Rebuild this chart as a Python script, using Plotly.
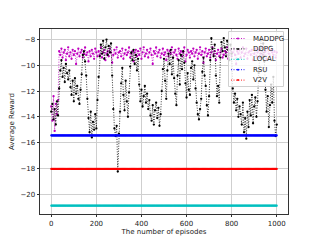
import plotly.graph_objects as go

# ---------------- data ----------------
episodes = list(range(0, 1001, 5))

maddpg = [
    -13.2, -14.3, -12.4, -15.1, -13.0, -13.8, -12.7,
    -8.9, -9.2, -8.7, -9.4, -9.0, -8.8, -9.6, -9.1, -8.6, -9.3,
    -9.0, -9.5, -8.8, -9.2, -8.9, -9.9, -9.1, -8.7, -9.3, -9.0,
    -8.8, -9.4, -9.1, -8.6, -9.2, -9.0, -9.7, -8.9, -9.3, -8.8,
    -9.1, -9.5, -8.7, -9.0, -9.3, -8.9, -9.2, -8.6, -9.4, -9.0,
    -8.8, -9.6, -9.1, -8.9, -9.3, -8.7, -9.0, -9.8, -9.2, -8.8,
    -9.1, -8.6, -9.4, -9.0, -8.9, -9.3, -8.7, -9.5, -9.1, -8.8,
    -9.2, -9.0, -8.6, -9.4, -9.1, -8.9, -9.7, -9.0, -8.8, -9.3,
    -8.9, -9.2, -8.7, -9.5, -9.0, -8.6, -9.3, -9.1, -8.8, -9.4,
    -9.0, -8.7, -9.2, -9.9, -8.9, -9.1, -8.6, -9.3, -9.0, -8.8,
    -9.4, -9.1, -8.7, -9.2, -9.0, -9.6, -8.8, -9.3, -8.9, -9.1,
    -8.6, -9.4, -9.0, -8.8, -9.2, -9.5, -8.7, -9.1, -8.9, -9.3,
    -9.0, -8.6, -9.7, -9.2, -8.8, -9.0, -9.4, -8.9, -9.1, -8.7,
    -9.3, -9.0, -8.8, -9.5, -9.1, -8.6, -9.2, -8.9, -9.8, -9.0,
    -8.7, -9.3, -9.1, -8.8, -9.4, -9.0, -8.6, -9.2, -8.9, -9.6,
    -9.1, -8.8, -9.3, -9.0, -8.7, -9.4, -9.2, -8.9, -9.0, -8.6,
    -9.5, -9.1, -8.8, -9.3, -9.0, -8.7, -9.2, -9.9, -8.9, -9.1,
    -8.8, -9.4, -9.0, -8.6, -9.3, -9.1, -8.7, -9.5, -9.0, -8.9,
    -9.2, -8.8, -9.6, -9.1, -8.7, -9.3, -9.0, -8.8, -9.4, -9.1,
    -8.6, -9.2, -9.0, -8.9, -9.5, -8.7, -9.1, -9.3, -8.8, -9.0,
    -9.2, -8.9, -9.4, -9.0,
]

ddpg = [
    -13.6, -13.0, -14.2, -13.4, -14.6, -12.8, -13.9,
    -11.8, -10.4, -9.6, -10.9, -10.2, -11.3, -9.9, -10.6, -11.1, -10.4,
    -11.7, -12.3, -11.2, -12.8, -11.0, -12.2, -11.6, -12.6, -13.0,
    -11.9, -10.7, -9.2, -8.9, -9.7, -10.8, -12.6,
    -14.1, -15.2, -13.6, -15.6, -14.4, -15.0, -13.8, -14.9, -12.7,
    -10.9, -9.3, -8.4, -9.1, -8.1, -9.5, -8.6, -8.0, -9.2, -8.5, -9.0, -8.3,
    -10.8, -13.4, -14.9, -15.5, -14.7, -18.25, -15.3,
    -13.6, -11.4, -10.2, -12.3, -13.5, -11.2, -12.8, -14.0, -12.1,
    -10.1, -9.0, -9.6, -8.8, -9.9, -9.2, -10.4, -9.5,
    -11.5, -12.8, -11.9, -13.2, -12.4, -11.6, -12.9, -12.2, -13.4,
    -12.7, -13.9, -14.3, -13.1, -14.6, -13.5, -12.9, -14.1, -13.3, -14.7, -13.8,
    -12.0, -10.3, -9.5, -11.2, -12.6, -10.4, -9.1, -9.9, -8.8, -10.7, -9.4, -11.0,
    -12.2, -13.1, -10.8, -9.6, -11.5, -9.2, -10.3, -8.9, -9.8,
    -11.4, -12.5, -10.6, -11.9, -12.3, -10.2, -9.7, -11.1, -10.0, -11.8,
    -12.9, -13.8, -14.2, -13.4, -12.6,
    -10.5, -9.4, -10.8, -11.6,
    -13.1, -13.9, -12.4,
    -9.6, -7.9, -8.7, -9.3, -8.4,
    -10.8, -12.4, -11.6, -12.9,
    -9.4, -8.2, -8.9, -7.9, -8.6, -9.3, -8.1, -8.8, -9.6, -8.4, -9.1,
    -11.8, -12.9, -12.2, -13.5, -12.6, -14.0, -13.2,
    -13.8, -14.6, -12.9, -15.2, -14.1, -15.7, -13.6, -14.8,
    -12.7, -13.9, -12.3, -14.5, -13.2, -12.5, -14.0, -12.8,
    -10.6, -8.8, -8.0, -9.4, -8.3, -9.7,
    -11.9, -13.6, -12.4, -14.8, -13.1, -11.5, -12.9, -10.9,
    -14.3, -15.5, -14.6,
]

local_value = -20.9
rsu_value = -15.45
v2v_value = -18.05

series_names = ["MADDPG", "DDPG", "LOCAL", "RSU", "V2V"]
series_colors = ["#bf00bf", "#000000", "#00bfbf", "#0000ff", "#ff0000"]

x_ticks = [0, 200, 400, 600, 800, 1000]
y_ticks = [-20, -18, -16, -14, -12, -10, -8]

# ---------------- figure ----------------
local = [local_value for _ in episodes]
rsu = [rsu_value for _ in episodes]
v2v = [v2v_value for _ in episodes]
all_series = [maddpg, ddpg, local, rsu, v2v]

FONT = "DejaVu Sans"
fig = go.Figure()
for name, color, ys in zip(series_names, series_colors, all_series):
    const = name in ("LOCAL", "RSU", "V2V")
    fig.add_trace(go.Scatter(
        x=episodes[:len(ys)], y=ys, name=name, mode="lines+markers",
        line=dict(color=color, width=(1.9 if const else 0.8),
                  dash=("solid" if const else "1px,1.5px")),
        marker=dict(color=color, size=(2.2 if const else 2.3)),
        showlegend=False,
    ))

# page body has an 8px default margin: lay the figure out so the plot area
# lands on the same screen pixels as the reference (40..288 x 29..213.6)
OFF = 8
W, H = 320 - OFF, 240 - OFF
L, R, T, B = 40 - OFF, 32, 29 - OFF, 26
pw, ph = W - L - R, H - T - B


def px(xs):
    return (xs - OFF - L) / pw


def py(ys):
    return (H - B - (ys - OFF)) / ph


shapes = [dict(type="rect", xref="paper", yref="paper", layer="above",
               x0=px(228.5), x1=px(283.5), y0=py(86.5), y1=py(31.5),
               fillcolor="rgba(255,255,255,0.8)", line=dict(color="#d0d0d0", width=1))]
annotations = []
for i, (name, color) in enumerate(zip(series_names, series_colors)):
    yc = 38.5 + 10.4 * i
    shapes.append(dict(type="line", xref="paper", yref="paper", layer="above",
                       x0=px(231), x1=px(245), y0=py(yc), y1=py(yc),
                       line=dict(color=color, width=0.9, dash="1px,1.5px")))
    shapes.append(dict(type="circle", xref="paper", yref="paper", layer="above",
                       x0=px(237), x1=px(239), y0=py(yc + 1), y1=py(yc - 1),
                       fillcolor=color, line=dict(color=color, width=0)))
    annotations.append(dict(xref="paper", yref="paper", x=px(251), y=py(yc),
                            xanchor="left", yanchor="middle", showarrow=False,
                            text=name, font=dict(family=FONT, size=7, color="#222")))

axis_common = dict(
    showline=True, mirror=True, linecolor="#333", linewidth=0.8,
    ticks="outside", ticklen=2.5, tickwidth=0.8, tickcolor="#333",
    showgrid=True, gridcolor="#cfcfcf", gridwidth=0.7, zeroline=False,
    tickfont=dict(family=FONT, size=7, color="#222"),
)

fig.update_layout(
    width=W, height=H,
    margin=dict(l=L, r=R, t=T, b=B, autoexpand=False),
    plot_bgcolor="white", paper_bgcolor="white",
    font=dict(family=FONT, size=7, color="#222"),
    xaxis=dict(range=[-50, 1050], tickvals=x_ticks,
               title=dict(text="The number of episodes", font=dict(family=FONT, size=7), standoff=1),
               **axis_common),
    yaxis=dict(range=[-21.55, -7.18], tickvals=y_ticks,
               title=dict(text="Average Reward", font=dict(family=FONT, size=7), standoff=5),
               **axis_common),
    shapes=shapes, annotations=annotations,
    showlegend=False,
)

fig.write_html("out.html")
